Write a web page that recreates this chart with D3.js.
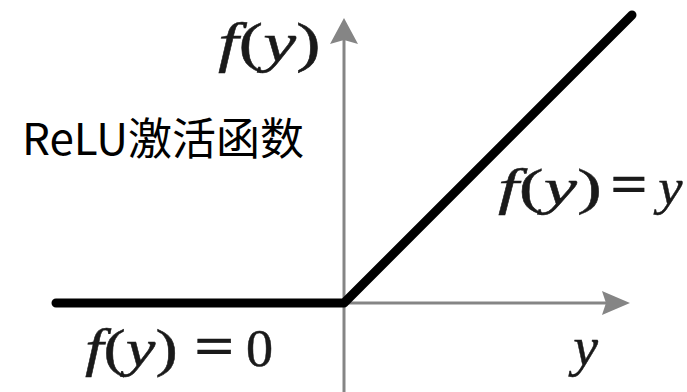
<!DOCTYPE html>
<html><head><meta charset="utf-8">
<script src="https://cdn.jsdelivr.net/npm/d3@7"></script>
<style>html,body{margin:0;padding:0;background:#fff;}svg{display:block;}</style>
</head><body>
<script>
// ReLU: f(y) = max(0, y)
const reluPoints = [{x: -1, y: 0}, {x: 0, y: 0}, {x: 1, y: 1}];
const xAxisExtent = [-1, 0.993];
const yAxisExtent = [-0.31, 0.99];
const title = "ReLU激活函数";

const W = 687, H = 392;
const svg = d3.select("body").append("svg").attr("width", W).attr("height", H);
const x = d3.scaleLinear().domain([-1, 1]).range([56, 632]);
const y = d3.scaleLinear().domain([0, 1]).range([303, 15]);
const gray = "#858585";

// axes
svg.append("line").attr("x1", x(xAxisExtent[0])).attr("x2", x(xAxisExtent[1]) - 20)
  .attr("y1", y(0)).attr("y2", y(0)).attr("stroke", gray).attr("stroke-width", 3);
svg.append("line").attr("x1", x(0)).attr("x2", x(0))
  .attr("y1", y(yAxisExtent[0])).attr("y2", y(yAxisExtent[1]) + 20).attr("stroke", gray).attr("stroke-width", 3);
// arrowheads
const tx = x(xAxisExtent[1]), ty0 = y(0);
svg.append("path").attr("d", `M${tx},${ty0} L${tx-28},${ty0-12} L${tx-24},${ty0} L${tx-28},${ty0+12} Z`).attr("fill", gray);
const vx = x(0), vy = y(yAxisExtent[1]);
svg.append("path").attr("d", `M${vx},${vy} L${vx-14},${vy+26} L${vx},${vy+22} L${vx+14},${vy+26} Z`).attr("fill", gray);

// ReLU line
svg.append("path").datum(reluPoints)
  .attr("d", d3.line().x(d => x(d.x)).y(d => y(d.y)))
  .attr("fill", "none").attr("stroke", "#000").attr("stroke-width", 9)
  .attr("stroke-linecap", "round").attr("stroke-linejoin", "round");

// math label pieces: ink box fitted (via canvas metrics) to the source image's stretched glyphs
const ctx = document.createElement("canvas").getContext("2d");
const FAM = "'Liberation Serif'";
function piece(parts, x0, x1, opts) {
  const size = opts.size, weight = opts.weight || "normal";
  let pos = 0, L = Infinity, R = -Infinity, A = -Infinity, D = -Infinity;
  parts.forEach(p => {
    ctx.font = `${p[1] ? "italic " : ""}${weight} ${size}px ${FAM}`;
    const m = ctx.measureText(p[0]);
    L = Math.min(L, pos - m.actualBoundingBoxLeft);
    R = Math.max(R, pos + m.actualBoundingBoxRight);
    A = Math.max(A, m.actualBoundingBoxAscent);
    D = Math.max(D, m.actualBoundingBoxDescent);
    pos += m.width;
  });
  const sx = (x1 - x0) / (R - L);
  let sy = 1, base = opts.baseline;
  if (opts.y0 !== undefined) { sy = (opts.y1 - opts.y0) / (A + D); base = opts.y0 + A * sy; }
  const g = svg.append("g").attr("transform", `translate(${x0 - L * sx},${base}) scale(${sx},${sy})`);
  const t = g.append("text").attr("x", 0).attr("y", 0)
    .attr("font-family", FAM + ",'Times New Roman',serif").attr("font-size", size).attr("font-weight", weight)
    .attr("fill", "#1a1a1a").attr("stroke", "#1a1a1a").attr("stroke-width", 0.45);
  parts.forEach(p => t.append("tspan").attr("font-style", p[1] ? "italic" : "normal").text(p[0]));
}
const fy = [["f", true], ["(", false], ["y", true], [")", false]];
// top axis label f(y)
piece(fy, 218, 318, {size: 54, baseline: 61});
// f(y) = y
piece(fy, 498, 599, {size: 51, baseline: 204});
piece([["=", false]], 613, 645, {size: 51, weight: "bold", y0: 177, y1: 192});
piece([["y", true]], 653, 683, {size: 51, baseline: 204});
// f(y) = 0
piece(fy, 85, 176, {size: 52, baseline: 366});
piece([["=", false]], 197, 231, {size: 52, weight: "bold", y0: 338, y1: 353});
piece([["0", false]], 247, 272, {size: 52, y0: 330, y1: 367});
// x axis label y
piece([["y", true]], 568, 598, {size: 54, baseline: 365});

// title
svg.append("text").attr("x", 22).attr("y", 155)
  .attr("font-family", "'Noto Sans CJK SC','Noto Sans',sans-serif").attr("font-size", 44)
  .attr("fill", "#000").text(title);
</script>
</body></html>
